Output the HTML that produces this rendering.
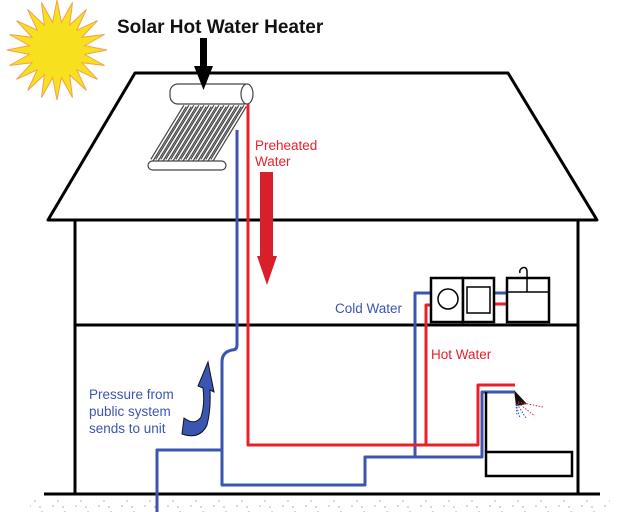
<!DOCTYPE html>
<html><head><meta charset="utf-8"><style>
html,body{margin:0;padding:0;background:#fff;}
svg{display:block;}
text{font-family:"Liberation Sans",sans-serif;}
</style></head><body>
<svg width="635" height="512" viewBox="0 0 635 512" xmlns="http://www.w3.org/2000/svg">
<defs>
<pattern id="dots" width="23" height="17" patternUnits="userSpaceOnUse">
<circle cx="3" cy="3" r="0.8" fill="#999"/><circle cx="12" cy="8" r="0.8" fill="#aaa"/><circle cx="19" cy="2" r="0.7" fill="#999"/><circle cx="7" cy="13" r="0.8" fill="#aaa"/><circle cx="17" cy="14" r="0.7" fill="#999"/>
</pattern>
</defs>
<rect x="30" y="497" width="580" height="15" fill="url(#dots)"/>
<!-- sun -->
<g transform="translate(57,50)">
<polygon fill="#f7e11e" stroke="#f4a050" stroke-width="1" points="50,0 27.7,4.4 47.6,15.5 24.9,12.7 40.5,29.4 19.8,19.8 29.4,40.5 12.7,24.9 15.5,47.6 4.4,27.7 0,50 -4.4,27.7 -15.5,47.6 -12.7,24.9 -29.4,40.5 -19.8,19.8 -40.5,29.4 -24.9,12.7 -47.6,15.5 -27.7,4.4 -50,0 -27.7,-4.4 -47.6,-15.5 -24.9,-12.7 -40.5,-29.4 -19.8,-19.8 -29.4,-40.5 -12.7,-24.9 -15.5,-47.6 -4.4,-27.7 0,-50 4.4,-27.7 15.5,-47.6 12.7,-24.9 29.4,-40.5 19.8,-19.8 40.5,-29.4 24.9,-12.7 47.6,-15.5 27.7,-4.4"/>
</g>
<text x="117" y="33" font-size="19" font-weight="bold" fill="#111">Solar Hot Water Heater</text>
<!-- house -->
<g stroke="#000" stroke-width="3" fill="none" stroke-linejoin="round">
<polygon points="48,220 135,73 508,73 597,220"/>
<line x1="75" y1="220" x2="75" y2="494"/>
<line x1="578" y1="220" x2="578" y2="494"/>
<line x1="75" y1="325" x2="578" y2="325"/>
<line x1="44" y1="494" x2="600" y2="494"/>
</g>
<!-- collector -->
<g stroke="#444" stroke-width="1.2" fill="#fff">
<rect x="170" y="84" width="82" height="20" rx="8"/>
<g stroke="#444" stroke-width="4">
<line x1="185" y1="106" x2="152" y2="160"/><line x1="190" y1="106" x2="157" y2="160"/><line x1="195" y1="106" x2="162" y2="160"/><line x1="200" y1="106" x2="167" y2="160"/><line x1="205" y1="106" x2="172" y2="160"/><line x1="210" y1="106" x2="177" y2="160"/><line x1="215" y1="106" x2="182" y2="160"/><line x1="220" y1="106" x2="187" y2="160"/><line x1="225" y1="106" x2="192" y2="160"/><line x1="230" y1="106" x2="197" y2="160"/><line x1="235" y1="106" x2="202" y2="160"/><line x1="240" y1="106" x2="207" y2="160"/><line x1="245" y1="106" x2="212" y2="160"/>
</g>
<g stroke="#fff" stroke-width="1.6">
<line x1="185" y1="106" x2="152" y2="160"/><line x1="190" y1="106" x2="157" y2="160"/><line x1="195" y1="106" x2="162" y2="160"/><line x1="200" y1="106" x2="167" y2="160"/><line x1="205" y1="106" x2="172" y2="160"/><line x1="210" y1="106" x2="177" y2="160"/><line x1="215" y1="106" x2="182" y2="160"/><line x1="220" y1="106" x2="187" y2="160"/><line x1="225" y1="106" x2="192" y2="160"/><line x1="230" y1="106" x2="197" y2="160"/><line x1="235" y1="106" x2="202" y2="160"/><line x1="240" y1="106" x2="207" y2="160"/><line x1="245" y1="106" x2="212" y2="160"/>
</g>
<rect x="148" y="161" width="78" height="9" rx="4.5"/>
<ellipse cx="247" cy="94" rx="6" ry="10"/>
</g>
<!-- black arrow -->
<rect x="200" y="38" width="7" height="30" fill="#000"/>
<polygon points="194,66 213,66 203.5,90" fill="#000"/>
<!-- pipes blue -->
<g fill="none" stroke="#3a56b0" stroke-width="3" stroke-linejoin="round">
<path d="M237,130 V345 Q237,350 232,350 Q222,352 222,362 V485 H365 V457 H482 V392 H514"/>
<path d="M157,512 V450 H222"/>
<path d="M415,457 V293 H431"/>
<path d="M493,293 H507"/>
</g>
<!-- pipes red -->
<g fill="none" stroke="#e8202a" stroke-width="3" stroke-linejoin="round">
<path d="M248,104 V445 H478 V385 H515"/>
<path d="M426,445 V305 H431"/>
<path d="M493,304 H507"/>
</g>
<!-- red arrow -->
<rect x="260" y="172" width="13" height="86" fill="#d9202a"/>
<polygon points="257,256 277,256 267,285" fill="#d9202a"/>
<!-- washer & sink -->
<g stroke="#000" stroke-width="2.5" fill="#fff">
<rect x="431" y="278" width="32" height="44"/>
<rect x="463" y="278" width="31" height="44"/>
<rect x="507" y="278" width="42" height="44"/>
</g>
<g stroke="#000" stroke-width="1.5" fill="none">
<circle cx="448" cy="299" r="10"/>
<rect x="467" y="287" width="23" height="26"/>
<line x1="507" y1="292" x2="549" y2="292"/>
<path d="M527,292 V272 Q527,266 522,268 Q519,270 520,273"/>
</g>
<!-- tub -->
<rect x="486" y="452" width="86" height="24" fill="#fff" stroke="#000" stroke-width="2.5"/>
<line x1="486" y1="392" x2="486" y2="452" stroke="#000" stroke-width="2.5"/>
<!-- shower head -->
<polygon points="514,390 527,404 516,406" fill="#111"/>
<g stroke-dasharray="1.5,1.5" stroke-width="1" fill="none">
<line x1="518" y1="402" x2="543" y2="407" stroke="#e8202a"/>
<line x1="518" y1="403" x2="535" y2="416" stroke="#e8202a"/>
<line x1="517" y1="404" x2="526" y2="418" stroke="#3a56b0"/>
<line x1="516" y1="404" x2="520" y2="418" stroke="#3a56b0"/>
<line x1="516" y1="404" x2="517" y2="416" stroke="#3a56b0"/>
</g>
<!-- curly blue arrow -->
<path d="M182,434 Q200,440 207,425 Q211,410 210,390 L214,392 L208,362 L198,386 L203,388 Q205,405 201,417 Q195,426 184,418 Z" fill="#3a56b0" stroke="#112" stroke-width="1"/>
<!-- labels -->
<g font-size="13.5">
<text x="255" y="150" fill="#e8202a">Preheated</text>
<text x="255" y="166" fill="#e8202a">Water</text>
<text x="335" y="313" fill="#3a56b0">Cold Water</text>
<text x="431" y="359" fill="#e8202a">Hot Water</text>
<text x="89" y="399" fill="#3a56b0">Pressure from</text>
<text x="89" y="416" fill="#3a56b0">public  system</text>
<text x="89" y="433" fill="#3a56b0">sends to unit</text>
</g>
</svg>
</body></html>
